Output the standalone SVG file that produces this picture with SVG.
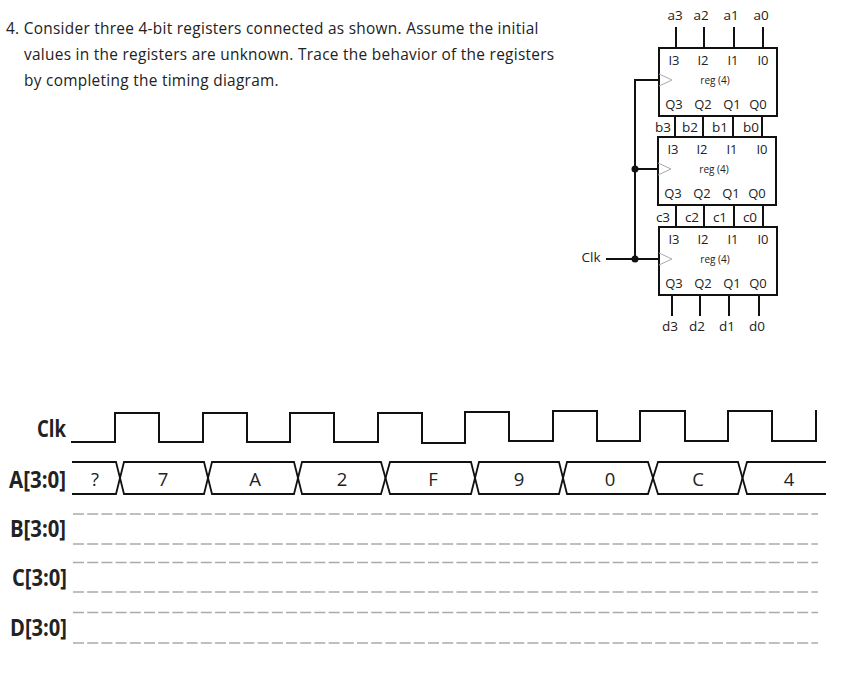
<svg xmlns="http://www.w3.org/2000/svg" width="847" height="677" viewBox="0 0 847 677">
<style>
text{font-family:"Open Sans","Noto Sans","Liberation Sans",sans-serif;fill:#222}
.q{font-size:15.4px;letter-spacing:.29px}
.p{font-size:13px;text-anchor:middle}
.r{font-size:10px;text-anchor:middle}
.s{font-size:13.500px;text-anchor:middle}
.b{fill:none;stroke:#111;stroke-width:2}
.w{fill:none;stroke:#111;stroke-width:1.8}
.c{fill:none;stroke:#aaa;stroke-width:1}
.d{fill:none;stroke:#aaa;stroke-width:1.3;stroke-dasharray:11 3.2}
.l{font-size:24px;font-weight:700;text-anchor:end}
.v{font-size:18.500px;text-anchor:middle}
</style>
<defs>
<g id="reg">
<rect class="b" x="0" y="0" width="118" height="68" fill="#fff"/>
<path class="c" d="M0 26L13 32L0 38"/>
<text class="p" x="15" y="17">I3</text><text class="p" x="44" y="17">I2</text><text class="p" x="74" y="17">I1</text><text class="p" x="104" y="17">I0</text>
<text class="r" x="56" y="36">reg (4)</text>
<text class="p" x="15" y="61">Q3</text><text class="p" x="44" y="61">Q2</text><text class="p" x="73" y="61">Q1</text><text class="p" x="99" y="61">Q0</text>
</g>
</defs>
<text class="q" x="6" y="34">4. Consider three 4-bit registers connected as shown. Assume the initial</text>
<text class="q" x="24" y="60">values in the registers are unknown. Trace the behavior of the registers</text>
<text class="q" x="24" y="86">by completing the timing diagram.</text>
<g id="connectors">
<path class="b" d="M676 27V48M704 27V48M734 27V48M763 27V48"/>
<path class="b" d="M675 116V137M703 116V137M733 116V137M762 116V137"/>
<path class="b" d="M676 206V227M704 206V227M734 206V227M763 206V227"/>
<path class="b" d="M672 295V316M700 295V316M729 295V316M759 295V316"/>
<path class="b" d="M659 80H635V259M635 169H658M606 259H659"/>
<circle cx="635" cy="169" r="3.500" fill="#111"/>
<circle cx="635" cy="259" r="3.500" fill="#111"/>
</g>
<g id="reg-a"><use href="#reg" x="659" y="48"/></g>
<g id="reg-b"><use href="#reg" x="658" y="137"/></g>
<g id="reg-c"><use href="#reg" x="659" y="227"/></g>
<g id="pins">
<text class="s" x="675" y="20">a3</text><text class="s" x="701" y="20">a2</text><text class="s" x="731" y="20">a1</text><text class="s" x="761" y="20">a0</text>
<text class="s" x="663" y="132">b3</text><text class="s" x="690" y="132">b2</text><text class="s" x="720" y="132">b1</text><text class="s" x="751" y="132">b0</text>
<text class="s" x="663" y="222">c3</text><text class="s" x="692" y="222">c2</text><text class="s" x="720" y="222">c1</text><text class="s" x="750" y="222">c0</text>
<text class="s" x="670" y="331">d3</text><text class="s" x="697" y="331">d2</text><text class="s" x="727" y="331">d1</text><text class="s" x="757" y="331">d0</text>
<text x="591" y="262" style="font-size:13.500px;text-anchor:middle">Clk</text>
</g>
<g id="timing">
<path class="b" d="M71 442H115V413H159V442H203V413H247V442H290V413H334V442H378V413H422V443H465V412H509V441H553V411H597V441H640V411H685V441H728V411H772V441H816V410"/>
<path class="w" d="M72 462H116L124 494H204L212 462H294L302 494H381L390 462H471L479 494H559L567 462H648L658 494H738L747 462H826"/>
<path class="w" d="M72 494H116L124 462H204L212 494H294L302 462H381L390 494H471L479 462H559L567 494H648L658 462H738L747 494H826"/>
<path class="d" d="M73 514H818M73 544H818M73 562.500H818M73 592H818M73 612.500H818M73 643H818"/>
</g>
<g id="labels">
<text class="l" x="66" y="437" textLength="29" lengthAdjust="spacingAndGlyphs">Clk</text>
<text class="l" x="66" y="488" textLength="57" lengthAdjust="spacingAndGlyphs">A[3:0]</text>
<text class="l" x="66" y="537" textLength="56" lengthAdjust="spacingAndGlyphs">B[3:0]</text>
<text class="l" x="67" y="586" textLength="55" lengthAdjust="spacingAndGlyphs">C[3:0]</text>
<text class="l" x="67" y="636" textLength="57" lengthAdjust="spacingAndGlyphs">D[3:0]</text>
<text class="v" x="95" y="486">?</text><text class="v" x="163" y="486">7</text><text class="v" x="255" y="486">A</text><text class="v" x="342" y="486">2</text><text class="v" x="433" y="486">F</text><text class="v" x="519" y="486">9</text><text class="v" x="610" y="486">0</text><text class="v" x="698" y="486">C</text><text class="v" x="789" y="486">4</text>
</g>
</svg>
